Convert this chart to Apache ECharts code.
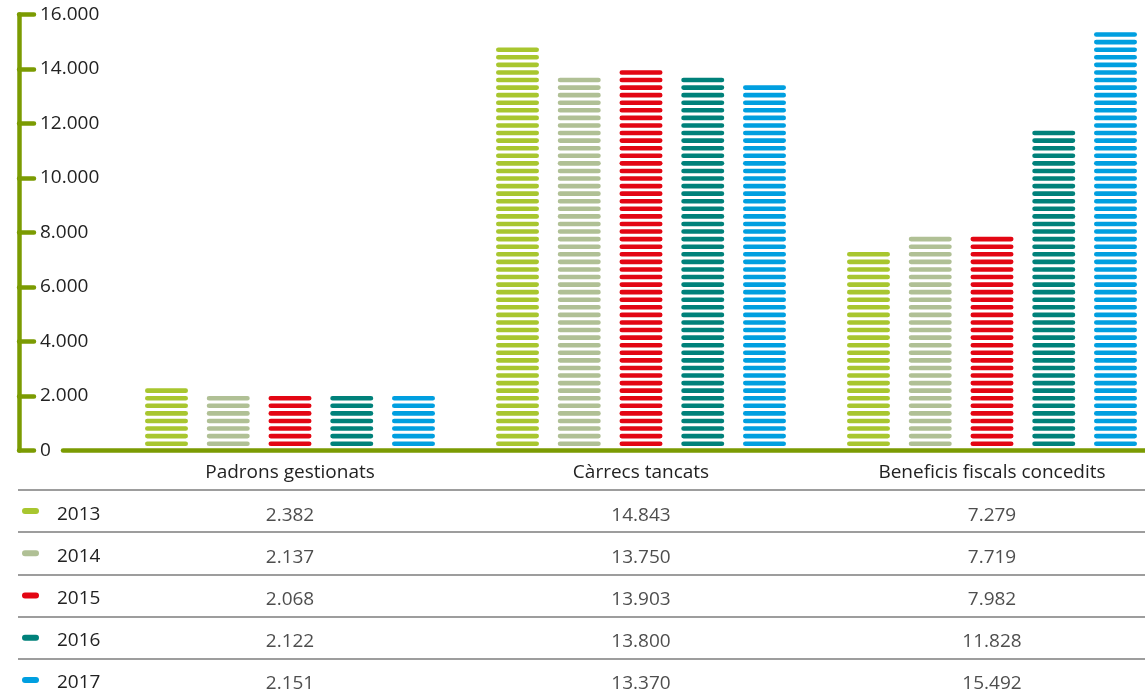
<!DOCTYPE html>
<html><head><meta charset="utf-8">
<script src="https://cdn.jsdelivr.net/npm/echarts@6/dist/echarts.min.js"></script>
<style>html,body{margin:0;padding:0;background:#fff}#c{width:1145px;height:697px}</style>
</head><body><div id="c"></div>
<script>
const categories = ['Padrons gestionats', 'Càrrecs tancats', 'Beneficis fiscals concedits'];
const years = ['2013', '2014', '2015', '2016', '2017'];
const v2013 = [2382, 14843, 7279];
const v2014 = [2137, 13750, 7719];
const v2015 = [2068, 13903, 7982];
const v2016 = [2122, 13800, 11828];
const v2017 = [2151, 13370, 15492];
const yTickLabels = ['0', '2.000', '4.000', '6.000', '8.000', '10.000', '12.000', '14.000', '16.000'];
const yMin = 0, yMax = 16000, yStep = 2000;

const colors = ['#a8c62f', '#b0c095', '#e30613', '#00817a', '#009fe0'];
const green = '#7b9b02';
const FONT = 'Open Sans';
const TXT = '#222222';
const seriesValues = [v2013, v2014, v2015, v2016, v2017];
const fmt = v => String(v).replace(/\B(?=(\d{3})+(?!\d))/g, '.');

// bar styling (pixels)
const BAR_W = 43, BAR_STEP = 61.75;
const STRIPE_H = 4.6, STRIPE_PITCH = 7.577, STRIPE_LIFT = 4.5, ROUND_BIAS = -1.85;
const GROUP_W = BAR_W + BAR_STEP * (years.length - 1);

const gTop = 14.5, gH = 436;
const tTop = 490, tH = 211;

const rich = { y: { fontFamily: FONT, fontSize: 19, color: TXT, padding: [6, 0, 0, 18], verticalAlign: 'middle' } };
colors.forEach((c, i) => {
  rich['s' + i] = { width: 17, height: 6, borderRadius: 3, backgroundColor: c, fontSize: 2, verticalAlign: 'middle' };
});

function stripeRenderer(i) {
  return function (params, api) {
    const cat = api.value(0), val = api.value(1);
    const base = api.coord([cat, 0]);
    const top = api.coord([cat, val]);
    const len = base[1] - top[1];
    const n = Math.max(0, Math.round((len + ROUND_BIAS) / STRIPE_PITCH));
    const x = base[0] - GROUP_W / 2 + i * BAR_STEP;
    const children = [];
    for (let k = 0; k < n; k++) {
      children.push({
        type: 'rect',
        shape: { x: x, y: base[1] - STRIPE_LIFT - k * STRIPE_PITCH - STRIPE_H, width: BAR_W, height: STRIPE_H, r: STRIPE_H / 2 },
        style: { fill: colors[i] }
      });
    }
    return { type: 'group', children: children };
  };
}

const series = seriesValues.map((vals, i) => ({
  type: 'custom', name: years[i], xAxisIndex: 0, yAxisIndex: 0,
  data: vals.map((v, j) => [j, v]),
  encode: { x: 0, y: 1 },
  renderItem: stripeRenderer(i),
  z: 3
}));

const tableData = [];
seriesValues.forEach((vals, i) => vals.forEach((v, j) => tableData.push([categories[j], years[i], v])));
series.push({
  type: 'scatter', xAxisIndex: 4, yAxisIndex: 4, symbolSize: 1,
  itemStyle: { color: 'rgba(0,0,0,0)' },
  data: tableData,
  label: { show: true, position: 'inside', formatter: p => fmt(p.value[2]), fontFamily: FONT, fontSize: 19, color: TXT, offset: [0, 4] },
  silent: true
});

const chart = echarts.init(document.getElementById('c'), null, { renderer: 'canvas' });
chart.setOption({
  animation: false,
  grid: [
    { left: 114.5, width: 1053, top: gTop, height: gH, outerBoundsMode: 'none' },
    { left: 19, right: 0, top: gTop, height: gH, outerBoundsMode: 'none' },
    { left: 63, right: 0, top: gTop, height: gH, outerBoundsMode: 'none' },
    { left: 18, right: 0, top: tTop, height: tH, outerBoundsMode: 'none' },
    { left: 114.5, width: 1053, top: tTop, height: tH, outerBoundsMode: 'none' }
  ],
  xAxis: [
    { gridIndex: 0, type: 'category', data: categories, axisLine: { show: false }, axisTick: { show: false },
      axisLabel: { fontFamily: FONT, fontSize: 19, color: TXT, margin: 13 } },
    { gridIndex: 1, type: 'value', show: false },
    { gridIndex: 2, type: 'category', data: [''], axisLine: { onZero: false, lineStyle: { color: green, width: 4.5, cap: 'round' } },
      axisTick: { show: false }, axisLabel: { show: false } },
    { gridIndex: 3, type: 'value', show: false },
    { gridIndex: 4, type: 'category', data: categories, show: false }
  ],
  yAxis: [
    { gridIndex: 0, type: 'value', min: yMin, max: yMax, show: false },
    { gridIndex: 1, type: 'value', min: yMin, max: yMax, interval: yStep,
      axisLine: { show: true, onZero: false, lineStyle: { color: green, width: 4.5, cap: 'round' } },
      axisTick: { show: true, inside: true, length: 15, lineStyle: { color: green, width: 4.5, cap: 'round' } },
      axisLabel: { inside: true, margin: 21, fontFamily: FONT, fontSize: 19, color: TXT,
        formatter: v => yTickLabels[Math.round((v - yMin) / yStep)] },
      splitLine: { show: false } },
    { gridIndex: 2, type: 'value', show: false },
    { gridIndex: 3, type: 'category', data: years, inverse: true,
      axisLine: { show: false }, axisTick: { show: false },
      splitLine: { show: true, interval: 0, lineStyle: { color: '#9d9d9d', width: 2 } },
      axisLabel: { inside: true, margin: 4, interval: 0, formatter: (v, i) => '{s' + i + '| }{y|' + v + '}', rich: rich } },
    { gridIndex: 4, type: 'category', data: years, inverse: true, show: false }
  ],
  series: series
});
</script>
</body></html>
